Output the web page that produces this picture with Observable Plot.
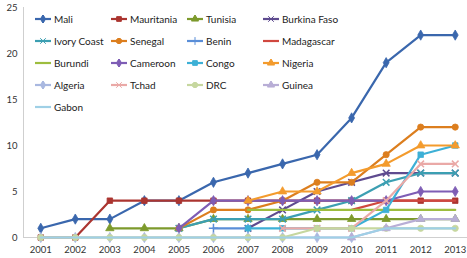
<!DOCTYPE html>
<html><head><meta charset="utf-8">
<script src="https://cdn.jsdelivr.net/npm/d3@7"></script>
<script src="https://cdn.jsdelivr.net/npm/@observablehq/plot@0.6"></script>
<style>
body{margin:0;background:#fff;font-family:Lato,"Open Sans",sans-serif;}
#wrap{position:relative;width:467px;height:258px;overflow:hidden;}
#legend{position:absolute;left:35px;top:8px;display:grid;grid-template-columns:76px 76px 76px 90px;grid-auto-rows:22px;font-size:10px;color:#222;}
#legend div{display:flex;align-items:center;white-space:nowrap;}
#legend svg{margin-right:2px;flex:none;}
</style></head><body>
<div id="wrap"><div id="legend"></div></div>
<script>
const years = [2001,2002,2003,2004,2005,2006,2007,2008,2009,2010,2011,2012,2013];
const countries = ["Mali","Mauritania","Tunisia","Burkina Faso","Ivory Coast","Senegal","Benin","Madagascar","Burundi","Cameroon","Congo","Nigeria","Algeria","Tchad","DRC","Guinea","Gabon"];
const mali        = [1,2,2,4,4,6,7,8,9,13,19,22,22];
const mauritania  = [0,0,4,4,4,4,4,4,4,4,4,4,4];
const tunisia     = [null,null,1,1,1,2,2,2,2,2,2,2,2];
const burkinaFaso = [null,null,null,null,null,null,1,3,5,6,7,7,7];
const ivoryCoast  = [null,null,null,null,1,2,2,2,3,4,6,7,7];
const senegal     = [null,null,null,null,1,3,3,4,6,6,9,12,12];
const benin       = [null,null,null,null,null,1,1,null,null,null,null,null,null];
const madagascar  = [null,null,null,null,null,null,null,null,null,3,4,4,4];
const burundi     = [null,null,null,null,null,null,3,3,3,3,3,3,3];
const cameroon    = [null,null,null,null,1,4,4,4,4,4,4,5,5];
const congo       = [null,null,null,null,null,null,1,1,1,1,3,9,10];
const nigeria     = [null,null,null,null,null,null,4,5,5,7,8,10,10];
const algeria     = [0,0,0,0,0,0,0,0,0,0,null,null,null];
const tchad       = [null,null,null,null,null,null,null,1,1,1,4,8,8];
const drc         = [0,0,0,0,0,0,0,0,1,1,1,1,1];
const guinea      = [null,null,null,null,null,null,null,null,null,0,1,2,2];
const gabon       = [0,0,0,0,0,0,0,0,0,0,1,1,1];
const seriesValues = [mali,mauritania,tunisia,burkinaFaso,ivoryCoast,senegal,benin,madagascar,burundi,cameroon,congo,nigeria,algeria,tchad,drc,guinea,gabon];
const yTicks = [0,5,10,15,20,25];

const colors = ["#3a67ad","#ab3530","#7d9a2c","#5e4b8f","#3c9fb2","#dc7e1e","#5a8ed8","#d0473f","#9dbd3e","#7e5db5","#3db0d6","#f39b2d","#a9b8e0","#eaa9a7","#c6d79f","#b8aed6","#9fd0e6"];
const symbols = ["diamond","square","triangle","times","times","circle","plus",null,null,"diamond","square","triangle","diamond","times","circle","triangle",null];

const marks = [
  Plot.ruleY([0], {stroke:"#cfcfcf", strokeWidth:1}),
  Plot.ruleX([2000.5], {stroke:"#cfcfcf", strokeWidth:1}),
  Plot.axisX({ticks: years, tickFormat: d => String(d), tickSize: 0, tickPadding: 9, label: null}),
  Plot.axisY({ticks: yTicks, tickSize: 0, tickPadding: 6, label: null})
];
countries.forEach((c, i) => {
  const rows = years.map((yr, j) => ({year: yr, value: seriesValues[i][j]}));
  marks.push(Plot.lineY(rows, {x: "year", y: "value", stroke: colors[i], strokeWidth: 2.2, curve: "linear"}));
  if (symbols[i]) {
    marks.push(Plot.dot(rows.filter(d => d.value != null), {x: "year", y: "value", symbol: symbols[i], r: 3.1, fill: colors[i], stroke: colors[i], strokeWidth: symbols[i]==="times"||symbols[i]==="plus" ? 1.5 : 0.8}));
  }
});

const chart = Plot.plot({
  width: 467, height: 258,
  marginLeft: 23, marginRight: 0, marginTop: 7, marginBottom: 21,
  x: {domain: [2000.5, 2013.5], range: [23, 472]},
  y: {domain: [0, 25], range: [237, 7]},
  style: {fontFamily: "Lato, 'Open Sans', sans-serif", fontSize: "9.5px", color: "#333", background: "white", overflow: "visible"},
  marks
});
document.getElementById("wrap").prepend(chart);

const legend = document.getElementById("legend");
countries.forEach((c, i) => {
  const item = document.createElement("div");
  const ns = "http://www.w3.org/2000/svg";
  const s = document.createElementNS(ns, "svg");
  s.setAttribute("width", 17); s.setAttribute("height", 8);
  const ln = document.createElementNS(ns, "line");
  ln.setAttribute("x1", 0); ln.setAttribute("x2", 16); ln.setAttribute("y1", 4); ln.setAttribute("y2", 4);
  ln.setAttribute("stroke", colors[i]); ln.setAttribute("stroke-width", 2.2);
  s.appendChild(ln);
  if (symbols[i]) {
    const map = {diamond: d3.symbolDiamond, square: d3.symbolSquare, triangle: d3.symbolTriangle, times: d3.symbolTimes, circle: d3.symbolCircle, plus: d3.symbolPlus};
    const p = document.createElementNS(ns, "path");
    p.setAttribute("d", d3.symbol(map[symbols[i]], 22)());
    p.setAttribute("transform", "translate(8,4)");
    p.setAttribute("fill", colors[i]); p.setAttribute("stroke", colors[i]);
    s.appendChild(p);
  }
  item.appendChild(s);
  const t = document.createElement("span"); t.textContent = c;
  item.appendChild(t);
  legend.appendChild(item);
});
</script></body></html>
